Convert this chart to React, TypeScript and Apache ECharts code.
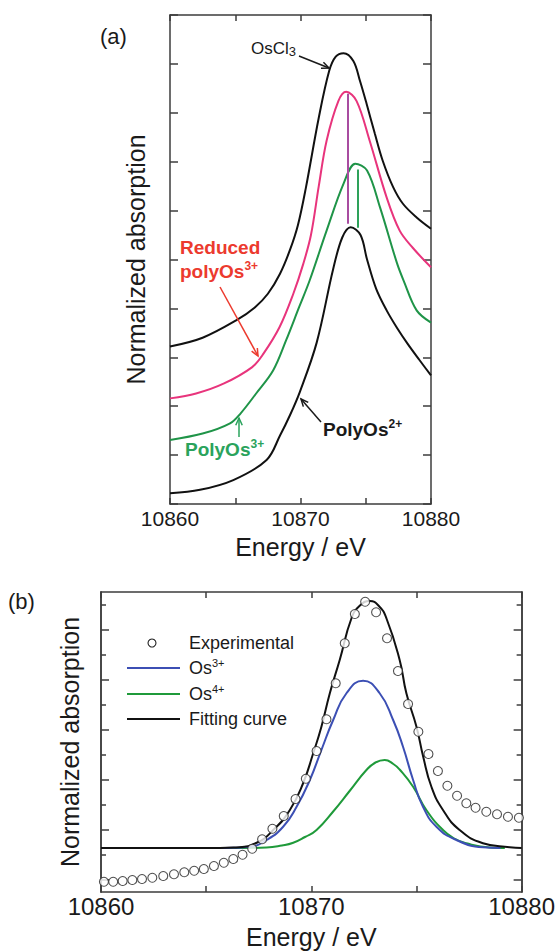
import React, { useEffect, useRef } from "react";
import * as echarts from "echarts";

const FONT = "'Liberation Sans', Arial, Helvetica, sans-serif";

// ---------- shared axis data ----------
const energyMin = 10860;
const energyMax = 10880;
const energyTickStep = 5;
const energyLabels = [10860, 10870, 10880];

// ---------- panel (a) ----------
const osCl3 = [
  [10860, 3.22], [10862.5, 3.4], [10865.1, 3.76], [10866.5, 4.02], [10867.5, 4.3],
  [10868.43, 4.71], [10869.2, 5.2], [10869.8, 5.7], [10870.4, 6.45], [10871.4, 7.9],
  [10872.2, 8.86], [10872.7, 9.15], [10873.3, 9.22], [10874.05, 9.06], [10874.56, 8.65],
  [10875.07, 8.18], [10875.7, 7.57], [10876.3, 7.02], [10877.1, 6.48], [10877.85, 6.14],
  [10878.9, 5.86], [10880, 5.63],
];
const reducedPolyOs3 = [
  [10860, 2.16], [10862, 2.26], [10864.1, 2.46], [10866.3, 2.8], [10867.15, 3.07],
  [10868.4, 3.62], [10869.45, 4.3], [10870.2, 4.9], [10870.8, 5.5], [10871.4, 6.5],
  [10872, 7.43], [10872.9, 8.24], [10873.5, 8.43], [10874.3, 8.24], [10875.3, 7.43],
  [10876.6, 6.27], [10877.6, 5.59], [10878.6, 5.24], [10880, 4.84],
];
const polyOs3 = [
  [10860, 1.31], [10862.5, 1.44], [10864.6, 1.65], [10865.4, 1.85], [10866.6, 2.26],
  [10867.9, 2.73], [10868.9, 3.35], [10869.9, 4.03], [10870.7, 4.57], [10872, 5.59],
  [10873.3, 6.55], [10874.2, 6.96], [10875.1, 6.82], [10876.1, 6.06], [10877.4, 4.92],
  [10877.9, 4.57], [10878.9, 3.96], [10880, 3.71],
];
const polyOs2 = [
  [10860, 0.22], [10862.3, 0.29], [10864.85, 0.49], [10867.4, 0.9], [10868.43, 1.4],
  [10869.2, 1.82], [10869.96, 2.3], [10871.24, 3.3], [10872.5, 4.8], [10873.2, 5.45],
  [10873.85, 5.66], [10874.6, 5.5], [10875.1, 5.0], [10875.8, 4.4], [10876.6, 3.96],
  [10877.4, 3.6], [10878.2, 3.28], [10879.1, 2.95], [10880, 2.63],
];
const peakLineReduced = [[10873.64, 5.73], [10873.64, 8.39]];
const peakLinePolyOs3 = [[10874.4, 5.65], [10874.4, 6.84]];
const yMinA = 0;
const yMaxA = 10;

// ---------- panel (b) ----------
const experimental = [
  [10860.14, -0.09], [10860.58, -0.09], [10861.03, -0.06], [10861.49, -0.02], [10861.95, 0.02],
  [10862.44, 0.07], [10862.96, 0.14], [10863.47, 0.21], [10863.96, 0.29], [10864.43, 0.35],
  [10864.89, 0.42], [10865.37, 0.54], [10865.84, 0.67], [10866.29, 0.82], [10866.73, 0.99],
  [10867.19, 1.23], [10867.66, 1.61], [10868.15, 2.03], [10868.69, 2.54], [10869.25, 3.22],
  [10869.74, 4.03], [10870.25, 5.14], [10870.72, 6.41], [10871.16, 7.85], [10871.59, 9.45],
  [10872.07, 10.62], [10872.56, 11.11], [10873.08, 10.69], [10873.6, 9.65], [10874.12, 8.34],
  [10874.6, 7.02], [10875.09, 5.91], [10875.57, 5.02], [10876.02, 4.34], [10876.47, 3.75],
  [10876.93, 3.35], [10877.37, 3.05], [10877.81, 2.87], [10878.32, 2.71], [10878.83, 2.61],
  [10879.35, 2.51], [10879.87, 2.47],
];
const os3Component = [
  [10865.5, 1.26], [10866.3, 1.27], [10867.08, 1.31], [10867.87, 1.58], [10868.66, 2.11],
  [10869.3, 2.91], [10869.93, 3.98], [10870.48, 5.18], [10871.04, 6.38], [10871.67, 7.45],
  [10872.46, 7.95], [10873.25, 7.45], [10873.89, 6.38], [10874.36, 5.31], [10874.84, 3.98],
  [10875.31, 2.91], [10875.95, 2.11], [10876.9, 1.58], [10878.16, 1.29], [10879, 1.26],
];
const os4Component = [
  [10865.5, 1.26], [10866.7, 1.26], [10867.87, 1.28], [10868.6, 1.36], [10869.14, 1.47],
  [10869.7, 1.7], [10870.25, 1.98], [10871.04, 2.72], [10871.83, 3.55], [10872.62, 4.38],
  [10873.05, 4.68], [10873.49, 4.78], [10873.9, 4.62], [10874.2, 4.4], [10874.84, 3.71],
  [10875.47, 2.78], [10876.26, 1.98], [10876.8, 1.64], [10877.37, 1.45], [10878.48, 1.28],
  [10879.2, 1.26],
];
const fittingCurve = [
  [10860, 1.26], [10865, 1.26], [10866.3, 1.28], [10867.4, 1.47], [10868.19, 1.98],
  [10868.98, 2.78], [10869.61, 3.85], [10870.09, 5.05], [10870.48, 6.11], [10870.88, 7.45],
  [10871.35, 8.78], [10871.91, 10.45], [10872.3, 10.95], [10872.78, 11.14], [10873.2, 10.95],
  [10873.57, 10.45], [10874.2, 8.78], [10874.52, 7.45], [10875.0, 6.11], [10875.32, 4.91],
  [10875.71, 3.71], [10876.26, 2.78], [10877.05, 1.98], [10878.16, 1.45], [10879.43, 1.29],
  [10880, 1.26],
];
const yMinB = -0.5;
const yMaxB = 11.5;
const majorTicksB = [0, 2, 4, 6, 8, 10];
const minorTicksB = [1, 3, 5, 7, 9, 11];

// ---------- styling ----------
const AXIS = { color: "#3c3c3c", width: 1.5 };
const PINK = "#e8347c";
const GREEN_A = "#1f9448";
const PURPLE = "#a84ca0";
const GREEN_MARK = "#2ea25a";
const RED_TXT = "#ec3a2e";
const GREEN_TXT = "#2aa35c";
const BLUE_B = "#3c4fb4";
const GREEN_B = "#1f9a3a";

function arrow(x1: number, y1: number, x2: number, y2: number, color: string) {
  const ang = Math.atan2(y2 - y1, x2 - x1);
  const L = 8;
  const a = 0.42;
  const p1 = [x2 - L * Math.cos(ang - a), y2 - L * Math.sin(ang - a)];
  const p2 = [x2 - L * Math.cos(ang + a), y2 - L * Math.sin(ang + a)];
  return [
    { type: "line", z: 100, shape: { x1, y1, x2, y2 }, style: { stroke: color, lineWidth: 1.5 } },
    {
      type: "polyline", z: 100,
      shape: { points: [p1, [x2, y2], p2] },
      style: { stroke: color, lineWidth: 1.5, fill: null },
    },
  ];
}

function supText(x: number, y: number, base: string, sup: string, color: string, size: number, bold: boolean) {
  return {
    type: "text", z: 100, x, y,
    style: {
      text: `{b|${base}}{s|${sup}}`,
      verticalAlign: "middle",
      rich: {
        b: { fontSize: size, fontWeight: bold ? "bold" : "normal", fontFamily: FONT, fill: color, lineHeight: size + 4 },
        s: { fontSize: Math.round(size * 0.62), fontWeight: bold ? "bold" : "normal", fontFamily: FONT, fill: color, verticalAlign: "top", lineHeight: Math.round(size * 0.62) },
      },
    },
  };
}

function plainText(x: number, y: number, text: string, color: string, size: number, bold = false) {
  return {
    type: "text", z: 100, x, y,
    style: { text, fill: color, fontSize: size, fontWeight: bold ? "bold" : "normal", fontFamily: FONT, verticalAlign: "middle" },
  };
}

function xAxis(gridIndex: number, position: string, showLabel: boolean, labelSize: number, labelMargin: number, name: string, nameGap: number) {
  return {
    type: "value", gridIndex, position,
    min: energyMin, max: energyMax, interval: energyTickStep,
    axisLine: { show: true, onZero: false, lineStyle: AXIS },
    axisTick: { show: true, inside: true, length: 6, lineStyle: AXIS },
    axisLabel: {
      show: showLabel, fontSize: labelSize, color: "#1a1a1a", fontFamily: FONT, margin: labelMargin,
      formatter: (v: number) => (energyLabels.includes(v) ? String(v) : ""),
    },
    splitLine: { show: false },
    name, nameLocation: "middle", nameGap,
    nameTextStyle: { fontSize: 25, color: "#1a1a1a", fontFamily: FONT },
  };
}

export default function App() {
  const ref = useRef<HTMLDivElement>(null);
  useEffect(() => {
    document.body.style.margin = "0";
    if (!ref.current) return;
    const chart = echarts.init(ref.current, null, { renderer: "svg" });

    const yA = (position: string, withName: boolean) => ({
      type: "value", gridIndex: 0, position, min: yMinA, max: yMaxA, interval: 1,
      axisLine: { show: true, onZero: false, lineStyle: AXIS },
      axisTick: { show: true, inside: true, length: 8, lineStyle: AXIS },
      axisLabel: { show: false },
      splitLine: { show: false },
      name: withName ? "Normalized absorption" : "",
      nameLocation: "middle", nameGap: 22, nameRotate: 90,
      nameTextStyle: { fontSize: 25, color: "#1a1a1a", fontFamily: FONT },
    });
    const yB = (position: string, ticks: number[], len: number, withName: boolean) => ({
      type: "value", gridIndex: 1, position, min: yMinB, max: yMaxB,
      axisLine: { show: true, onZero: false, lineStyle: AXIS },
      axisTick: { show: true, inside: true, length: len, lineStyle: AXIS, customValues: ticks },
      axisLabel: { show: false, customValues: ticks },
      splitLine: { show: false },
      name: withName ? "Normalized absorption" : "",
      nameLocation: "middle", nameGap: 19, nameRotate: 90,
      nameTextStyle: { fontSize: 25, color: "#1a1a1a", fontFamily: FONT },
    });

    const lineA = (data: number[][], color: string, extra: any = {}) => ({
      type: "line", xAxisIndex: 0, yAxisIndex: 0, data, smooth: 0.35, showSymbol: false, symbol: "none",
      lineStyle: { color, width: 2 }, itemStyle: { color }, z: 3, ...extra,
    });
    const lineB = (data: number[][], color: string, z: number) => ({
      type: "line", xAxisIndex: 2, yAxisIndex: 2, data, smooth: 0.5, showSymbol: false, symbol: "none",
      lineStyle: { color, width: 2 }, itemStyle: { color }, z,
    });
    const vMark = (pts: number[][], color: string) => ({
      symbol: ["none", "none"], silent: true, label: { show: false },
      lineStyle: { color, width: 2, type: "solid" },
      data: [[{ coord: pts[0] }, { coord: pts[1] }]],
    });

    const graphics: any[] = [
      plainText(100, 36, "(a)", "#1a1a1a", 22),
      plainText(8, 601, "(b)", "#1a1a1a", 22),
      {
        type: "text", z: 100, x: 251, y: 48,
        style: {
          text: "{b|OsCl}{s|3}", verticalAlign: "middle",
          rich: {
            b: { fontSize: 17, fontFamily: FONT, fill: "#1a1a1a", lineHeight: 20 },
            s: { fontSize: 13, fontFamily: FONT, fill: "#1a1a1a", verticalAlign: "bottom", lineHeight: 8 },
          },
        },
      },
      ...arrow(299, 56, 329, 68, "#1a1a1a"),
      plainText(180, 247, "Reduced", RED_TXT, 19, true),
      supText(180, 271, "polyOs", "3+", RED_TXT, 19, true),
      ...arrow(220, 287, 258, 356, RED_TXT),
      supText(185, 449, "PolyOs", "3+", GREEN_TXT, 19, true),
      ...arrow(239, 437, 239, 418, GREEN_TXT),
      supText(323, 429, "PolyOs", "2+", "#1a1a1a", 19, true),
      ...arrow(321, 422, 301, 399, "#1a1a1a"),
      // legend panel (b)
      { type: "circle", z: 100, shape: { cx: 152, cy: 643, r: 4 }, style: { fill: "#fff", stroke: "#222", lineWidth: 1.1 } },
      plainText(189, 643, "Experimental", "#1a1a1a", 18),
      { type: "line", z: 100, shape: { x1: 127, y1: 668, x2: 180, y2: 668 }, style: { stroke: BLUE_B, lineWidth: 2 } },
      supText(189, 668, "Os", "3+", "#1a1a1a", 18, false),
      { type: "line", z: 100, shape: { x1: 127, y1: 694, x2: 180, y2: 694 }, style: { stroke: GREEN_B, lineWidth: 2 } },
      supText(189, 694, "Os", "4+", "#1a1a1a", 18, false),
      { type: "line", z: 100, shape: { x1: 127, y1: 719, x2: 180, y2: 719 }, style: { stroke: "#111", lineWidth: 2 } },
      plainText(189, 719, "Fitting curve", "#1a1a1a", 18),
    ];

    chart.setOption({
      animation: false,
      backgroundColor: "#ffffff",
      grid: [
        { left: 170, top: 15, width: 261, height: 489 },
        { left: 101, top: 592, width: 421, height: 300 },
      ],
      xAxis: [
        xAxis(0, "bottom", true, 21, 4, "Energy / eV", 30),
        xAxis(0, "top", false, 21, 4, "", 0),
        xAxis(1, "bottom", true, 24, 2, "Energy / eV", 32),
        xAxis(1, "top", false, 24, 2, "", 0),
      ],
      yAxis: [
        yA("left", true),
        yA("right", false),
        yB("left", majorTicksB, 8, true),
        yB("left", minorTicksB, 5, false),
        yB("right", majorTicksB, 8, false),
        yB("right", minorTicksB, 5, false),
      ],
      series: [
        lineA(osCl3, "#111111"),
        lineA(reducedPolyOs3, PINK, { markLine: vMark(peakLineReduced, PURPLE) }),
        lineA(polyOs3, GREEN_A, { markLine: vMark(peakLinePolyOs3, GREEN_MARK) }),
        lineA(polyOs2, "#111111"),
        lineB(os4Component, GREEN_B, 3),
        lineB(os3Component, BLUE_B, 4),
        lineB(fittingCurve, "#111111", 5),
        {
          type: "scatter", xAxisIndex: 2, yAxisIndex: 2, data: experimental,
          symbol: "circle", symbolSize: 9, z: 6,
          itemStyle: { color: "#ffffff", borderColor: "#222222", borderWidth: 1.1 },
        },
      ],
      graphic: graphics,
    });
    return () => chart.dispose();
  }, []);
  return <div ref={ref} style={{ width: 558, height: 952 }} />;
}
